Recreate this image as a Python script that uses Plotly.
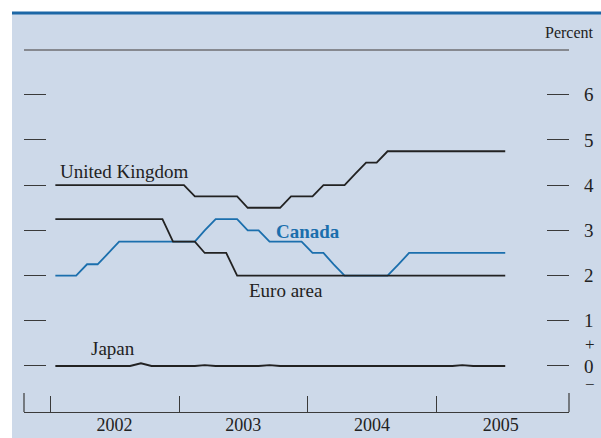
import plotly.graph_objects as go

# Monthly policy rates, January 2002 - July 2005 (percent)
months = [f"{y}-{m:02d}-15" for y in range(2002, 2006) for m in range(1, 13)][:43]

united_kingdom = (
    [4.0] * 12
    + [4.0, 3.75, 3.75, 3.75, 3.75, 3.75, 3.5, 3.5, 3.5, 3.5, 3.75, 3.75]
    + [3.75, 4.0, 4.0, 4.0, 4.25, 4.5, 4.5, 4.75, 4.75, 4.75, 4.75, 4.75]
    + [4.75] * 7
)
canada = (
    [2.0, 2.0, 2.0, 2.25, 2.25, 2.5, 2.75, 2.75, 2.75, 2.75, 2.75, 2.75]
    + [2.75, 2.75, 3.0, 3.25, 3.25, 3.25, 3.0, 3.0, 2.75, 2.75, 2.75, 2.75]
    + [2.5, 2.5, 2.25, 2.0, 2.0, 2.0, 2.0, 2.0, 2.25, 2.5, 2.5, 2.5]
    + [2.5] * 7
)
euro_area = (
    [3.25] * 11 + [2.75]
    + [2.75, 2.75, 2.5, 2.5, 2.5, 2.0, 2.0, 2.0, 2.0, 2.0, 2.0, 2.0]
    + [2.0] * 12
    + [2.0] * 7
)
japan = (
    [0.0, 0.0, 0.0, 0.0, 0.0, 0.0, 0.0, 0.0, 0.06, 0.0, 0.0, 0.0]
    + [0.0, 0.0, 0.02, 0.0, 0.0, 0.0, 0.0, 0.0, 0.02, 0.0, 0.0, 0.0]
    + [0.0] * 12
    + [0.0, 0.0, 0.02, 0.0, 0.0, 0.0, 0.0]
)

year_labels = ["2002", "2003", "2004", "2005"]
year_starts = ["2002-01-01", "2003-01-01", "2004-01-01", "2005-01-01"]
year_mids = ["2002-07-02", "2003-07-02", "2004-07-02", "2005-07-02"]
y_ticks = [0, 1, 2, 3, 4, 5, 6]

SERIF = "Liberation Serif, Times New Roman, serif"
INK = "#222222"
BLUE = "#1b6fad"
BG = "#cdd9e9"

W, H = 601, 438
ML, MR, MT, MB = 24, 32, 50, 26
PW, PH = W - ML - MR, H - MT - MB


def px_x(p):
    return (p - ML) / PW


def px_y(p):
    return (H - MB - p) / PH


fig = go.Figure()
fig.add_trace(go.Scatter(x=months, y=canada, mode="lines",
                         line=dict(color=BLUE, width=1.8), hoverinfo="skip"))
for series in (united_kingdom, euro_area, japan):
    fig.add_trace(go.Scatter(x=months, y=series, mode="lines",
                             line=dict(color=INK, width=1.8), hoverinfo="skip"))

labels = [
    ("United Kingdom", "2002-07-30", 4.295, INK, False),
    ("Canada", "2004-01-02", 2.98, BLUE, True),
    ("Euro area", "2003-11-01", 1.68, INK, False),
    ("Japan", "2002-06-29", 0.376, INK, False),
]
annotations = []
for text, x, y, color, bold in labels:
    annotations.append(dict(
        x=x, y=y, xref="x", yref="y", showarrow=False,
        text=f"<b>{text}</b>" if bold else text,
        font=dict(family=SERIF, size=19, color=color),
        xanchor="center", yanchor="middle"))

annotations += [
    dict(x=px_x(596), y=px_y(33), xref="paper", yref="paper", showarrow=False,
         text="Percent", font=dict(family=SERIF, size=16, color=INK),
         xanchor="right", yanchor="middle"),
    dict(x=px_x(590), y=px_y(356), xref="paper", yref="paper", showarrow=False,
         text="+", font=dict(family=SERIF, size=17, color=INK),
         xanchor="center", yanchor="bottom"),
    dict(x=px_x(590), y=px_y(373), xref="paper", yref="paper", showarrow=False,
         text="\u2212", font=dict(family=SERIF, size=17, color=INK),
         xanchor="center", yanchor="top"),
]

shapes = [
    # panel background
    dict(type="rect", xref="paper", yref="paper", layer="below",
         x0=px_x(12), x1=px_x(602), y0=px_y(439), y1=px_y(12),
         fillcolor=BG, line=dict(width=0)),
    # blue rule across the top
    dict(type="rect", xref="paper", yref="paper", layer="below",
         x0=px_x(12), x1=px_x(602), y0=px_y(14.5), y1=px_y(11.5),
         fillcolor="#1c67a6", line=dict(width=0)),
    # rule under the unit label
    dict(type="line", xref="paper", yref="paper",
         x0=0, x1=1, y0=1, y1=1, line=dict(color="#6e6e72", width=1.5)),
    # end marks of the time axis
    dict(type="line", xref="paper", yref="paper",
         x0=0, x1=0, y0=0, y1=19 / PH, line=dict(color="#3a3a3a", width=1.2)),
    dict(type="line", xref="paper", yref="paper",
         x0=1, x1=1, y0=0, y1=19 / PH, line=dict(color="#3a3a3a", width=1.2)),
]

fig.update_layout(
    width=W, height=H, autosize=False,
    margin=dict(l=ML, r=MR, t=MT, b=MB, pad=0),
    paper_bgcolor="white", plot_bgcolor="rgba(0,0,0,0)",
    showlegend=False,
    annotations=annotations, shapes=shapes,
    xaxis=dict(
        type="date", range=["2001-10-18", "2006-01-12"], automargin=False,
        showgrid=False, zeroline=False,
        showline=True, linecolor="#3a3a3a", linewidth=1.2,
        tickmode="array", tickvals=year_mids, ticktext=year_labels,
        ticks="", ticklabelstandoff=-4,
        tickfont=dict(family=SERIF, size=18, color=INK),
        minor=dict(tickmode="array", tickvals=year_starts, ticks="inside",
                   ticklen=16, tickwidth=1.2, tickcolor="#3a3a3a", showgrid=False),
        fixedrange=True,
    ),
    yaxis=dict(
        range=[-1.018, 6.99], side="right", automargin=False,
        showgrid=False, zeroline=False, showline=False,
        tickmode="array", tickvals=y_ticks, ticktext=[str(v) for v in y_ticks],
        ticks="inside", ticklen=22, tickwidth=1.2, tickcolor="#3a3a3a",
        mirror="ticks", ticklabelstandoff=14,
        tickfont=dict(family=SERIF, size=19, color=INK),
        fixedrange=True,
    ),
)

fig.write_html("out.html")
